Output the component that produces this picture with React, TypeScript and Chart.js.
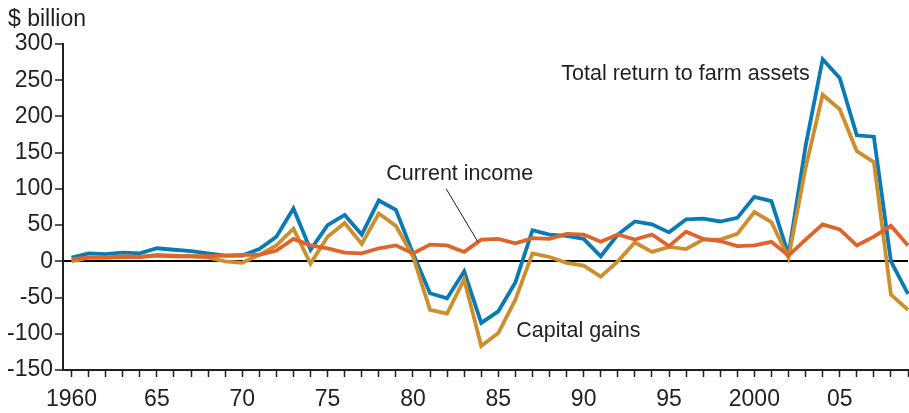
import React, { useEffect, useRef } from "react";
import { Chart, registerables } from "chart.js";

Chart.register(...registerables);

const years: number[] = Array.from({ length: 50 }, (_, i) => 1960 + i);

const totalReturn: number[] = [
  5, 11, 10, 12, 11, 18, 16, 14, 11, 8,
  8, 17, 34, 73, 16, 50, 64, 37, 84, 71,
  11, -44, -51, -14, -85, -69, -29, 43, 37, 35,
  31, 7, 37, 55, 51, 40, 58, 59, 55, 60,
  89, 83, 9, 159, 279, 253, 174, 172, 0, -45,
];

const capitalGains: number[] = [
  0, 5, 5, 7, 6, 9, 8, 7, 5, 0,
  -2, 9, 22, 45, -3, 34, 53, 24, 66, 49,
  7, -67, -72, -25, -117, -99, -53, 11, 6, -2,
  -6, -21, 0, 26, 13, 20, 17, 30, 30, 38,
  68, 54, 5, 129, 230, 210, 152, 137, -46, -67,
];

const currentIncome: number[] = [
  3, 5, 5, 6, 6, 8, 7, 7, 7, 8,
  9, 9, 15, 31, 22, 18, 12, 11, 18, 22,
  11, 23, 22, 13, 30, 31, 25, 32, 31, 38,
  37, 27, 37, 30, 37, 21, 41, 31, 28, 21,
  22, 27, 8, 30, 51, 44, 22, 34, 49, 22,
];

const tickYears: number[] = [1960, 1965, 1970, 1975, 1980, 1985, 1990, 1995, 2000, 2005];
const tickLabels: string[] = ["1960", "65", "70", "75", "80", "85", "90", "95", "2000", "05"];

const FONT = '"Liberation Sans", Arial, Helvetica, sans-serif';
const TEXT = "#231f20";

const annotationPlugin = {
  id: "annotations",
  afterDraw(chart: any) {
    const { ctx, scales } = chart;
    const x = scales.x;
    const y = scales.y;
    ctx.save();
    ctx.fillStyle = TEXT;
    ctx.textBaseline = "alphabetic";
    ctx.font = `23px ${FONT}`;
    ctx.textAlign = "left";
    ctx.fillText("$ billion", 8, 26);

    ctx.font = `21.5px ${FONT}`;
    ctx.textAlign = "right";
    ctx.fillText("Total return to farm assets", x.getPixelForValue(2003.25), y.getPixelForValue(250));
    ctx.textAlign = "left";
    ctx.fillText("Current income", x.getPixelForValue(1978.43), y.getPixelForValue(112));
    ctx.fillText("Capital gains", x.getPixelForValue(1986.05), y.getPixelForValue(-104));

    ctx.strokeStyle = "#231f20";
    ctx.lineWidth = 1;
    ctx.beginPath();
    ctx.moveTo(x.getPixelForValue(1981.95), y.getPixelForValue(100));
    ctx.lineTo(x.getPixelForValue(1983.8), y.getPixelForValue(27));
    ctx.stroke();
    ctx.restore();
  },
};

export default function App() {
  const ref = useRef<HTMLCanvasElement | null>(null);

  useEffect(() => {
    if (!ref.current) return;
    const toPts = (arr: number[]) => arr.map((v, i) => ({ x: years[i], y: v }));
    const common = {
      pointRadius: 0,
      tension: 0,
      borderWidth: 3.8,
      borderJoinStyle: "miter" as const,
      fill: false,
      clip: false as any,
    };
    const chart = new Chart(ref.current, {
      type: "line",
      data: {
        datasets: [
          { label: "Total return to farm assets", data: toPts(totalReturn), borderColor: "#0a7ab5", order: 3, ...common },
          { label: "Capital gains", data: toPts(capitalGains), borderColor: "#cd8e2e", order: 2, ...common },
          { label: "Current income", data: toPts(currentIncome), borderColor: "#e0642a", order: 1, ...common },
        ],
      },
      options: {
        animation: false,
        responsive: false,
        layout: { padding: { top: 44, right: 1, left: 0, bottom: 0 } },
        plugins: { legend: { display: false }, tooltip: { enabled: false } },
        scales: {
          x: {
            type: "linear",
            min: 1959.5,
            max: 2009,
            afterBuildTicks: (s: any) => {
              s.ticks = years.map((v) => ({ value: v }));
            },
            afterFit: (s: any) => {
              s.height = 43;
              s.paddingLeft = 0;
              s.paddingRight = 0;
            },
            grid: {
              drawOnChartArea: false,
              drawTicks: true,
              tickLength: 7,
              tickColor: "#231f20",
              tickWidth: 1.5,
              color: "#231f20",
            },
            border: { display: true, color: "#231f20", width: 2 },
            ticks: {
              autoSkip: false,
              maxRotation: 0,
              padding: 9,
              color: TEXT,
              font: { family: FONT, size: 23 },
              callback: (v: any) => {
                const idx = tickYears.indexOf(Number(v));
                return idx >= 0 ? tickLabels[idx] : "";
              },
            },
          },
          y: {
            min: -150,
            max: 300,
            afterFit: (s: any) => {
              s.width = 63;
            },
            grid: {
              drawOnChartArea: true,
              drawTicks: true,
              tickLength: 8,
              tickColor: "#231f20",
              tickWidth: 1.5,
              lineWidth: 2,
              color: (c: any) => (c.tick && c.tick.value === 0 ? "#000000" : "rgba(0,0,0,0)"),
            },
            border: { display: true, color: "#231f20", width: 2 },
            ticks: {
              stepSize: 50,
              padding: 2,
              color: TEXT,
              font: { family: FONT, size: 23 },
            },
          },
        },
      },
      plugins: [annotationPlugin],
    });
    return () => chart.destroy();
  }, []);

  return (
    <div style={{ position: "absolute", left: 0, top: 0, width: 909, height: 413, background: "#fff" }}>
      <canvas ref={ref} width={909} height={413} style={{ display: "block", width: 909, height: 413 }} />
    </div>
  );
}
